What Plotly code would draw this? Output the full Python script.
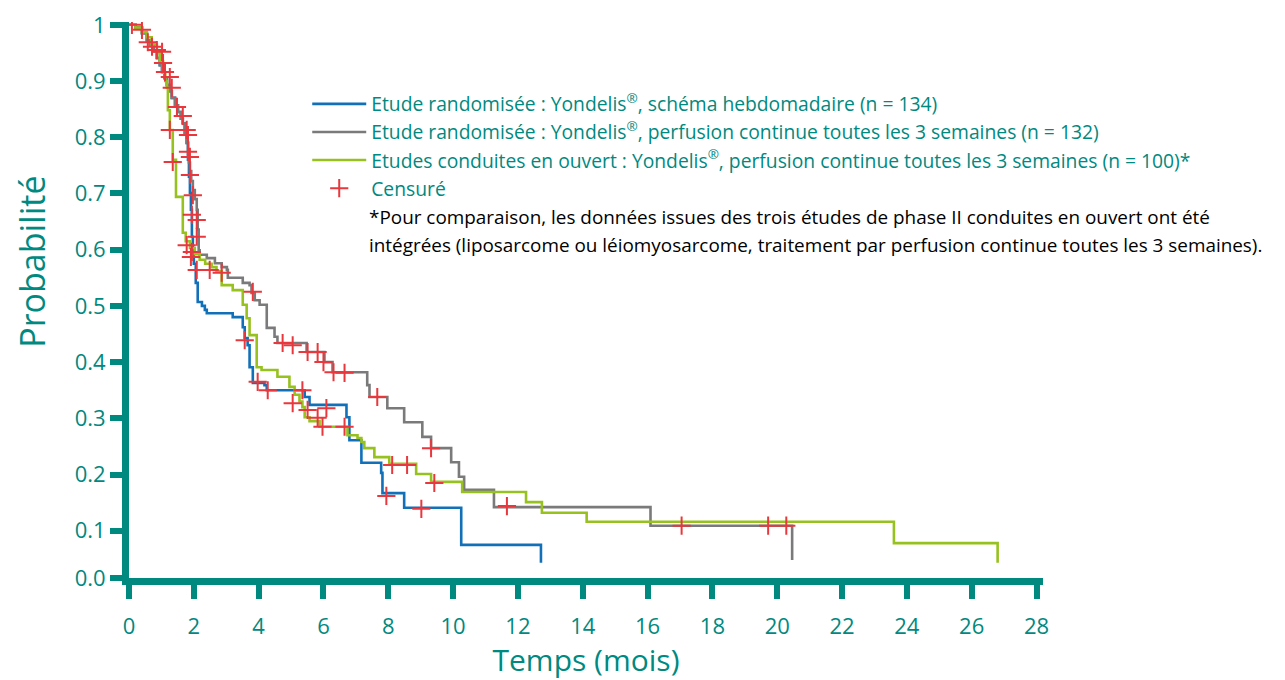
import plotly.graph_objects as go

# ---------------- data ----------------
blue_t = [0, 0.2, 0.40, 0.55, 0.65, 0.76, 0.86, 0.95, 1.02, 1.10, 1.17, 1.25, 1.32, 1.42, 1.51, 1.60,
          1.66, 1.72, 1.78, 1.82, 1.85, 1.88, 1.91, 1.94, 1.97, 2.00, 2.06, 2.12, 2.25, 2.34, 2.40,
          3.20, 3.51, 3.57, 3.66, 3.72, 3.82, 4.18, 4.25, 5.42, 5.57, 6.71, 6.80, 7.17, 7.78, 7.82,
          8.49, 10.25, 12.71]
blue_s = [1.0, 0.995, 0.985, 0.972, 0.964, 0.953, 0.941, 0.928, 0.916, 0.905, 0.893, 0.882, 0.870,
          0.857, 0.845, 0.833, 0.825, 0.808, 0.790, 0.760, 0.730, 0.701, 0.671, 0.623, 0.599, 0.575,
          0.541, 0.507, 0.500, 0.493, 0.487, 0.480, 0.462, 0.443, 0.430, 0.391, 0.363, 0.359, 0.350,
          0.338, 0.324, 0.302, 0.261, 0.221, 0.203, 0.167, 0.141, 0.075, 0.043]

gray_t = [0, 0.2, 0.40, 0.55, 0.65, 0.76, 0.86, 0.95, 1.02, 1.10, 1.17, 1.25, 1.32, 1.42, 1.51, 1.60,
          1.66, 1.72, 1.78, 1.82, 1.85, 1.88, 1.92, 1.97, 2.03, 2.09, 2.12, 2.15, 2.18, 2.40, 2.65,
          2.86, 3.02, 3.05, 3.51, 3.72, 3.78, 3.88, 4.03, 4.25, 4.49, 4.58, 5.48, 6.03, 6.28, 7.35,
          7.42, 7.97, 8.49, 9.05, 9.32, 9.94, 10.18, 10.34, 11.26, 16.09, 20.46]
gray_s = [1.0, 0.995, 0.985, 0.972, 0.964, 0.953, 0.941, 0.928, 0.916, 0.905, 0.893, 0.882, 0.870,
          0.857, 0.845, 0.833, 0.825, 0.808, 0.790, 0.770, 0.755, 0.740, 0.722, 0.706, 0.690, 0.671,
          0.636, 0.599, 0.591, 0.585, 0.576, 0.569, 0.564, 0.550, 0.541, 0.537, 0.523, 0.510, 0.502,
          0.461, 0.445, 0.434, 0.418, 0.400, 0.382, 0.359, 0.338, 0.318, 0.293, 0.267, 0.247, 0.222,
          0.196, 0.173, 0.142, 0.109, 0.048]

green_t = [0, 0.2, 0.40, 0.55, 0.70, 0.86, 0.95, 1.05, 1.12, 1.17, 1.20, 1.26, 1.35, 1.45, 1.66,
           1.75, 1.88, 2.03, 2.18, 2.35, 2.55, 2.70, 2.86, 3.20, 3.51, 3.63, 3.72, 3.94, 4.09, 4.58,
           4.95, 5.11, 5.26, 5.35, 5.42, 5.57, 5.88, 6.74, 7.05, 7.17, 7.26, 7.57, 8.03, 8.86, 9.32,
           10.28, 12.25, 12.74, 14.12, 23.60, 26.80]
green_s = [1.0, 0.995, 0.987, 0.978, 0.965, 0.950, 0.935, 0.915, 0.900, 0.888, 0.848, 0.813, 0.760,
           0.694, 0.630, 0.615, 0.603, 0.592, 0.582, 0.575, 0.569, 0.562, 0.537, 0.528, 0.502, 0.478,
           0.448, 0.391, 0.386, 0.374, 0.356, 0.342, 0.330, 0.320, 0.302, 0.295, 0.285, 0.270, 0.265,
           0.258, 0.247, 0.231, 0.219, 0.201, 0.187, 0.169, 0.151, 0.132, 0.116, 0.078, 0.043]

cens_t = [0.09, 0.40, 0.58, 0.71, 0.86, 1.02, 1.05, 1.11, 1.26, 1.32, 1.48, 1.66, 1.26, 1.78, 1.82,
          1.82, 1.88, 1.35, 1.88, 1.97, 1.94, 2.09, 2.09, 1.78, 1.91, 1.94, 2.09, 2.49, 2.86, 3.82,
          3.57, 3.97, 4.28, 4.74, 5.05, 5.51, 5.82, 6.00, 6.31, 6.65, 5.35, 5.05, 5.51, 6.09, 5.82,
          5.97, 6.65, 7.66, 7.94, 9.02, 8.12, 8.58, 9.32, 9.42, 11.66, 17.05, 19.72, 20.28]
cens_s = [1.0, 0.991, 0.969, 0.961, 0.955, 0.952, 0.932, 0.916, 0.907, 0.888, 0.854, 0.838, 0.813,
          0.813, 0.804, 0.774, 0.765, 0.756, 0.733, 0.697, 0.662, 0.653, 0.623, 0.608, 0.587, 0.596,
          0.564, 0.564, 0.559, 0.525, 0.439, 0.365, 0.350, 0.434, 0.430, 0.418, 0.418, 0.400, 0.382,
          0.381, 0.350, 0.327, 0.315, 0.318, 0.301, 0.285, 0.285, 0.338, 0.162, 0.139, 0.217, 0.217,
          0.247, 0.185, 0.144, 0.109, 0.109, 0.109]

x_ticks = [0, 2, 4, 6, 8, 10, 12, 14, 16, 18, 20, 22, 24, 26, 28]
y_tickvals = [0.016, 0.1, 0.2, 0.3, 0.4, 0.5, 0.6, 0.7, 0.8, 0.9, 1.0]
y_ticktext = ["0.0", "0.1", "0.2", "0.3", "0.4", "0.5", "0.6", "0.7", "0.8", "0.9", "1"]

names = [
    "Etude randomisée : Yondelis<sup>®</sup>, schéma hebdomadaire (n = 134)",
    "Etude randomisée : Yondelis<sup>®</sup>, perfusion continue toutes les 3 semaines (n = 132)",
    "Etudes conduites en ouvert : Yondelis<sup>®</sup>, perfusion continue toutes les 3 semaines (n = 100)*",
    "Censuré",
]
note_lines = [
    "*Pour comparaison, les données issues des trois études de phase II conduites en ouvert ont été",
    "intégrées (liposarcome ou léiomyosarcome, traitement par perfusion continue toutes les 3 semaines).",
]

# ---------------- styles ----------------
TEAL = "#00897f"
BLUE = "#1170b8"
GRAY = "#7a7a7a"
GREEN = "#97c11f"
RED = "#e8383d"
FONT = "Open Sans"
TXT = 19.3
NOTE = 18.9

fig = go.Figure()
for t, s, c, n, g in [(blue_t, blue_s, BLUE, names[0], "a"),
                      (gray_t, gray_s, GRAY, names[1], "b"),
                      (green_t, green_s, GREEN, names[2], "c")]:
    fig.add_trace(go.Scatter(x=t, y=s, mode="lines", name=n, legendgroup=g,
                             line=dict(color=c, width=2.6, shape="hv")))
fig.add_trace(go.Scatter(x=cens_t, y=cens_s, mode="markers", name=names[3], legendgroup="d",
                         marker=dict(symbol="cross-thin", size=13, line=dict(width=2, color=RED))))

annotations = [
    dict(text=note_lines[0], xref="paper", yref="paper", x=0.2604, y=0.649,
         xanchor="left", yanchor="middle", align="left", showarrow=False,
         font=dict(size=NOTE, color="black", family=FONT)),
    dict(text=note_lines[1], xref="paper", yref="paper", x=0.2604, y=0.599,
         xanchor="left", yanchor="middle", align="left", showarrow=False,
         font=dict(size=NOTE, color="black", family=FONT)),
    dict(text="Probabilité", xref="paper", yref="paper", x=-0.1055, y=0.568,
         xanchor="center", yanchor="middle", textangle=-90, showarrow=False,
         font=dict(size=34, color=TEAL, family=FONT)),
]

# the page body adds an 8 px offset, so the figure is 8 px smaller in each direction
fig.update_layout(
    width=1277, height=672,
    margin=dict(l=121, r=242, t=14, b=102),
    plot_bgcolor="white", paper_bgcolor="white",
    font=dict(family=FONT, color=TEAL),
    legend=dict(x=0.195, y=0.887, xanchor="left", yanchor="top",
                font=dict(size=TXT, color=TEAL, family=FONT),
                traceorder="grouped", tracegroupgap=0, bgcolor="rgba(0,0,0,0)",
                itemwidth=54),
    annotations=annotations,
)
fig.update_xaxes(range=[0, 28.2], tickvals=x_ticks, showgrid=False, zeroline=False,
                 showline=True, linecolor=TEAL, linewidth=7, ticks="outside", ticklen=14,
                 tickwidth=6, tickcolor=TEAL, tickfont=dict(size=22, color=TEAL),
                 ticklabelstandoff=9, automargin=False,
                 title=dict(text="Temps (mois)", font=dict(size=30, color=TEAL), standoff=20))
fig.update_yaxes(range=[0.016, 1.005], tickvals=y_tickvals, ticktext=y_ticktext, showgrid=False,
                 zeroline=False, showline=True, linecolor=TEAL, linewidth=7, ticks="outside",
                 ticklen=12, tickwidth=6, tickcolor=TEAL, tickfont=dict(size=22, color=TEAL),
                 automargin=False)

fig.write_html("out.html")
